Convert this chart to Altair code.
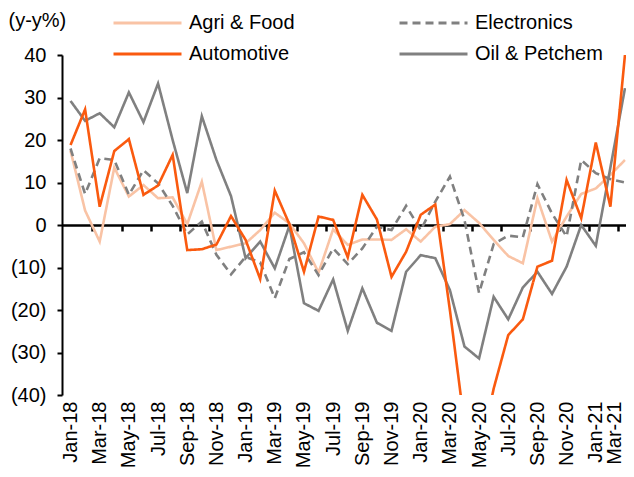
import altair as alt
import pandas as pd

months = ["Jan-18", "Feb-18", "Mar-18", "Apr-18", "May-18", "Jun-18", "Jul-18", "Aug-18",
          "Sep-18", "Oct-18", "Nov-18", "Dec-18", "Jan-19", "Feb-19", "Mar-19", "Apr-19",
          "May-19", "Jun-19", "Jul-19", "Aug-19", "Sep-19", "Oct-19", "Nov-19", "Dec-19",
          "Jan-20", "Feb-20", "Mar-20", "Apr-20", "May-20", "Jun-20", "Jul-20", "Aug-20",
          "Sep-20", "Oct-20", "Nov-20", "Dec-20", "Jan-21", "Feb-21", "Mar-21"]

agri = [17.5, 3.4, -3.9, 13.5, 6.7, 9.4, 6.3, 6.5, 0.2, 10.2, -5.9, -5.1, -4.3, -1.2, 2.9,
        0.4, -4.3, -11.2, -1.0, -4.7, -3.4, -3.4, -3.5, -1.0, -3.9, -0.4, 0.2, 3.5, 0.5,
        -3.5, -7.3, -9.0, 6.3, -3.9, 2.0, 7.3, 8.6, 11.8, 15.3]
elec = [18.0, 7.3, 15.7, 15.3, 7.1, 12.9, 9.8, 4.5, -2.2, 0.8, -7.0, -11.6, -7.5, -8.8,
        -17.2, -8.0, -6.4, -11.8, -5.5, -9.2, -5.5, -0.4, -1.2, 4.5, -1.2, 5.5, 11.4, 1.2,
        -16.0, -4.5, -2.5, -2.9, 9.6, 2.7, -2.7, 15.3, 12.2, 10.8, 10.0]
oil = [29.2, 24.5, 26.3, 23.0, 31.2, 24.2, 33.3, 20.0, 7.5, 25.6, 15.3, 6.8, -7.8, -3.9,
       -10.2, -0.2, -18.4, -20.2, -12.8, -24.9, -14.9, -23.0, -24.9, -11.0, -7.1, -7.8,
       -15.3, -28.6, -31.4, -16.9, -22.2, -14.7, -11.0, -16.2, -9.8, 0.0, -4.9, 13.5, 32.2]
auto = [18.8, 27.2, 4.3, 17.4, 20.2, 7.1, 9.3, 16.5, -5.9, -5.7, -4.6, 2.1, -3.5, -12.7,
        8.1, 0.2, -11.0, 2.0, 1.2, -7.6, 7.1, 1.3, -12.2, -6.3, 2.4, 4.8, -20.0, -47.0,
        -55.0, -38.5, -25.9, -22.2, -9.8, -8.4, 10.6, 1.6, 19.4, 4.3, 40.0]

# legend fills column by column: column 1 = Agri, Automotive; column 2 = Electronics, Oil
series_names = ["Agri & Food", "Automotive", "Electronics", "Oil & Petchem"]
series_colors = ["#F9C3A5", "#FA5A0F", "#808080", "#808080"]
series_dashes = [[1, 0], [1, 0], [8, 5], [1, 0]]

draw_order = [("Agri & Food", agri), ("Electronics", elec), ("Oil & Petchem", oil),
              ("Automotive", auto)]
rows = []
for name, vals in draw_order:
    for i, v in enumerate(vals):
        rows.append({"idx": i, "month": months[i], "value": v, "series": name})
df = pd.DataFrame(rows)

label_idx = list(range(0, len(months), 2))
df_labels = pd.DataFrame({"idx": label_idx})
tick_pos = [i - 0.5 for i in label_idx if i > 0]
last_idx = len(months) - 1

FONT = "Liberation Sans"
x_scale = alt.Scale(domain=[-0.583, 38.07], nice=False, zero=False)
y_scale = alt.Scale(domain=[-40, 40], nice=False)

month_js = "[" + ",".join("'" + m + "'" for m in months) + "]"

legend_kw = dict(title=None, orient="none", legendX=50, legendY=-42, columns=2,
                 columnPadding=103, rowPadding=11, clipHeight=20, symbolType="stroke",
                 symbolSize=4624, symbolStrokeWidth=3, labelFont=FONT, labelFontSize=20,
                 labelColor="black", labelOffset=6, padding=0)

lines = alt.Chart(df).mark_line(strokeWidth=2.6, clip=True).encode(
    x=alt.X("idx:Q", scale=x_scale,
            axis=alt.Axis(orient="bottom", offset=-170, values=tick_pos, labels=False,
                          ticks=True, tickSize=6, tickColor="black", tickWidth=2.5,
                          domainColor="black", domainWidth=2.5, grid=False, title=None)),
    y=alt.Y("value:Q", scale=y_scale,
            axis=alt.Axis(values=list(range(-40, 41, 10)),
                          labelExpr="datum.value < 0 ? '(' + (-datum.value) + ')' : '' + datum.value",
                          labelFont=FONT, labelFontSize=20, labelColor="black", labelPadding=11,
                          tickSize=5, tickColor="black", tickWidth=2, domainColor="black",
                          domainWidth=2, grid=False,
                          title="(y-y%)", titleAngle=0, titleAlign="left",
                          titleBaseline="middle", titleX=-54, titleY=-35, titleFont=FONT,
                          titleFontSize=20, titleFontWeight="normal", titleColor="black")),
    color=alt.Color("series:N", scale=alt.Scale(domain=series_names, range=series_colors),
                    legend=alt.Legend(**legend_kw)),
    strokeDash=alt.StrokeDash("series:N",
                              scale=alt.Scale(domain=series_names, range=series_dashes),
                              legend=alt.Legend(**legend_kw)),
)

labels_layer = alt.Chart(df_labels).mark_point(opacity=0).encode(
    x=alt.X("idx:Q", scale=x_scale,
            axis=alt.Axis(orient="bottom", values=label_idx, labelExpr=month_js + "[datum.value]",
                          labelAngle=-90, labelFont=FONT, labelFontSize=20, labelColor="black",
                          labelPadding=6, ticks=False, domain=False, grid=False, title=None,
                          labelOverlap=False,
                          labelOffset={"condition": {"test": f"datum.value == {last_idx}",
                                                     "value": -10},
                                       "value": 0})),
)

chart = alt.layer(lines, labels_layer).resolve_axis(x="independent").properties(
    width=564, height=340,
    padding={"left": 54, "top": 47, "right": 0, "bottom": 74},
    autosize=alt.AutoSizeParams(type="none"),
).configure_view(stroke=None)

chart.save("out.html", embed_options={"renderer": "svg", "actions": False})
